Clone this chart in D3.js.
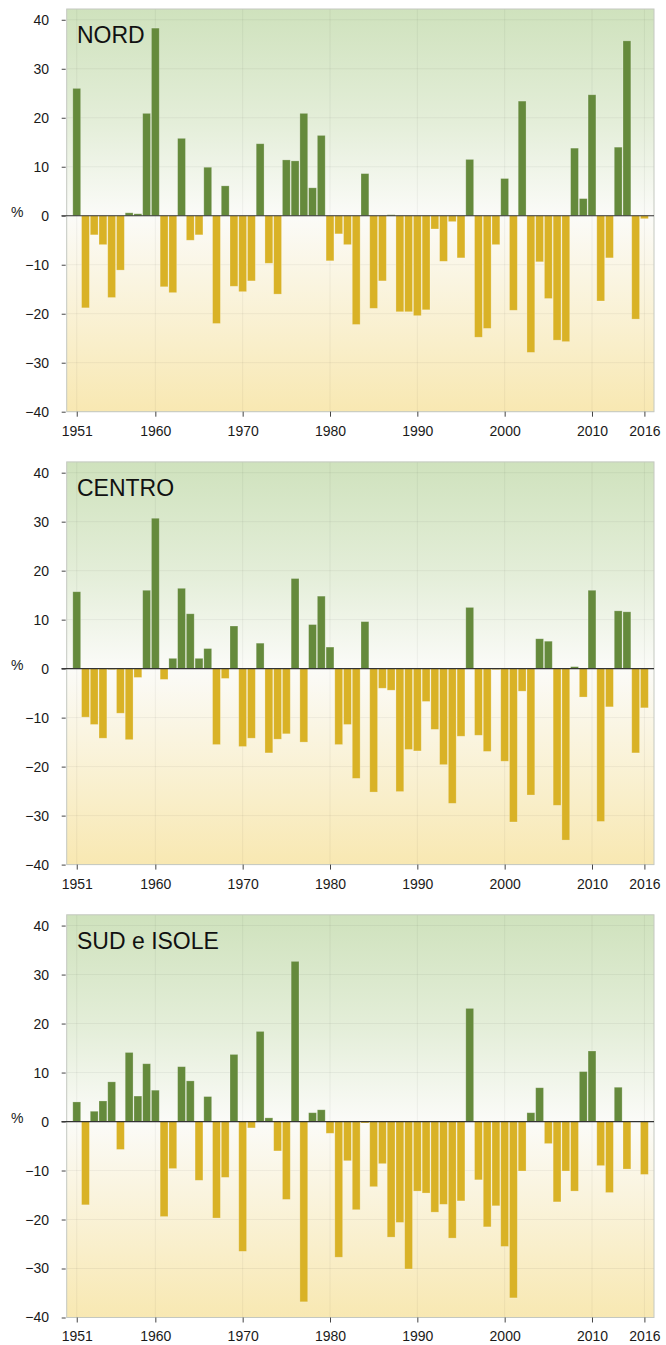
<!DOCTYPE html>
<html>
<head>
<meta charset="utf-8">
<script src="https://cdn.jsdelivr.net/npm/d3@7"></script>
<style>
    body { margin: 0; background: #fff; }
    svg text { font-family: "Liberation Sans", Arial, sans-serif; }
</style>
</head>
<body>
<div id="chart"></div>
<script>
var years = [1951, 1952, 1953, 1954, 1955, 1956, 1957, 1958, 1959, 1960,
    1961, 1962, 1963, 1964, 1965, 1966, 1967, 1968, 1969, 1970,
    1971, 1972, 1973, 1974, 1975, 1976, 1977, 1978, 1979, 1980,
    1981, 1982, 1983, 1984, 1985, 1986, 1987, 1988, 1989, 1990,
    1991, 1992, 1993, 1994, 1995, 1996, 1997, 1998, 1999, 2000,
    2001, 2002, 2003, 2004, 2005, 2006, 2007, 2008, 2009, 2010,
    2011, 2012, 2013, 2014, 2015, 2016];

var nordValues = [26.0, -18.8, -3.9, -5.9, -16.7, -11.1, 0.6, 0.4, 20.9, 38.3,
    -14.5, -15.7, 15.8, -5.0, -3.9, 9.9, -22.0, 6.1, -14.4, -15.5,
    -13.3, 14.7, -9.7, -16.0, 11.4, 11.2, 20.9, 5.7, 16.4, -9.2,
    -3.7, -5.9, -22.2, 8.6, -18.9, -13.3, 0.2, -19.6, -19.6, -20.4,
    -19.2, -2.7, -9.3, -1.2, -8.6, 11.5, -24.8, -23.0, -5.9, 7.6,
    -19.3, 23.4, -27.9, -9.4, -16.9, -25.4, -25.7, 13.8, 3.5, 24.7,
    -17.4, -8.6, 14.0, 35.7, -21.1, -0.6];

var centroValues = [15.7, -9.9, -11.4, -14.2, -0.2, -9.1, -14.5, -1.8, 16.0, 30.7,
    -2.2, 2.1, 16.4, 11.2, 2.1, 4.1, -15.5, -2.0, 8.7, -15.9,
    -14.2, 5.2, -17.2, -14.4, -13.3, 18.4, -15.0, 9.0, 14.8, 4.4,
    -15.5, -11.4, -22.4, 9.6, -25.2, -4.0, -4.4, -25.1, -16.5, -16.8,
    -6.7, -12.4, -19.6, -27.5, -13.8, 12.5, -13.6, -16.9, -0.2, -18.9,
    -31.3, -4.6, -25.8, 6.1, 5.6, -27.9, -35.0, 0.4, -5.8, 16.0,
    -31.2, -7.8, 11.8, 11.6, -17.2, -8.0];

var sudValues = [4.0, -17.0, 2.1, 4.2, 8.1, -5.7, 14.1, 5.2, 11.8, 6.4,
    -19.4, -9.6, 11.2, 8.3, -12.0, 5.1, -19.7, -11.4, 13.7, -26.5,
    -1.3, 18.4, 0.75, -6.0, -15.9, 32.7, -36.8, 1.8, 2.4, -2.4,
    -27.7, -8.0, -18.0, -0.3, -13.3, -8.6, -23.6, -20.6, -30.1, -14.2,
    -14.6, -18.5, -16.9, -23.8, -16.2, 23.1, -11.9, -21.5, -17.2, -25.5,
    -36.0, -10.1, 1.8, 6.9, -4.5, -16.4, -10.1, -14.2, 10.2, 14.4,
    -9.0, -14.5, 7.0, -9.7, 0, -10.8];

var regionNames = ["NORD", "CENTRO", "SUD e ISOLE"];
var yTickValues = [-40, -30, -20, -10, 0, 10, 20, 30, 40];
var xTickValues = [1951, 1960, 1970, 1980, 1990, 2000, 2010, 2016];

var width = 666, height = 1345;
var plot = {left: 66.7, right: 654, top: 9, bottom: 411.7};
var panelStep = 452.9;
var greenBar = '#658a3c', yellowBar = '#d9b226';

var svg = d3.select('#chart').append('svg')
    .attr('width', width)
    .attr('height', height);

var x = d3.scaleLinear().domain([1949.85, 2017.1]).range([plot.left, plot.right]);
var y = d3.scaleLinear().domain([-40, 42.2]).range([plot.bottom, plot.top]);
var barWidth = (x(1) - x(0)) * 0.9;

//background gradient
var defs = svg.append('defs');
var grad = defs.append('linearGradient')
    .attr('id', 'bgGrad')
    .attr('x1', 0).attr('y1', 0).attr('x2', 0).attr('y2', 1);
var zeroFrac = (y(0) - plot.top) / (plot.bottom - plot.top);
grad.append('stop').attr('offset', 0).attr('stop-color', '#cfe2bd');
grad.append('stop').attr('offset', zeroFrac * 0.55).attr('stop-color', '#e4eed9');
grad.append('stop').attr('offset', zeroFrac).attr('stop-color', '#fbfbf8');
grad.append('stop').attr('offset', 1).attr('stop-color', '#f8e8b2');

var series = [nordValues, centroValues, sudValues];

series.forEach(function (values, p) {
    var g = svg.append('g').attr('transform', 'translate(0,' + (p * panelStep) + ')');

    //plot background
    g.append('rect')
        .attr('x', plot.left)
        .attr('y', plot.top)
        .attr('width', plot.right - plot.left)
        .attr('height', plot.bottom - plot.top)
        .style('fill', 'url(#bgGrad)');

    //grid lines
    g.selectAll('.hgrid').data(yTickValues).enter().append('line')
        .attr('x1', plot.left).attr('x2', plot.right)
        .attr('y1', function (d) { return y(d); })
        .attr('y2', function (d) { return y(d); })
        .attr('stroke', 'rgba(0,0,0,0.05)');
    g.selectAll('.vgrid').data(xTickValues).enter().append('line')
        .attr('y1', plot.top).attr('y2', plot.bottom)
        .attr('x1', function (d) { return x(d); })
        .attr('x2', function (d) { return x(d); })
        .attr('stroke', 'rgba(0,0,0,0.05)');

    //bars
    g.selectAll('.bar').data(values).enter().append('rect')
        .attr('x', function (d, i) { return x(years[i]) - barWidth / 2; })
        .attr('y', function (d) { return d > 0 ? y(d) : y(0); })
        .attr('width', barWidth)
        .attr('height', function (d) { return Math.abs(y(d) - y(0)); })
        .style('fill', function (d) { return d > 0 ? greenBar : yellowBar; })
        .style('stroke', 'rgba(255,255,255,0.3)')
        .style('stroke-width', 0.8);

    //plot border
    g.append('rect')
        .attr('x', plot.left)
        .attr('y', plot.top)
        .attr('width', plot.right - plot.left)
        .attr('height', plot.bottom - plot.top)
        .style('fill', 'none')
        .style('stroke', '#c4c8c0')
        .style('stroke-width', 1);

    //zero line
    g.append('line')
        .attr('x1', 61.5).attr('x2', plot.right)
        .attr('y1', y(0)).attr('y2', y(0))
        .attr('stroke', '#333')
        .attr('stroke-width', 1.2);

    //y axis
    var yAxis = g.append('g')
        .attr('transform', 'translate(65.7,0)')
        .call(d3.axisLeft(y).tickValues(yTickValues).tickSize(4).tickPadding(12.7));
    yAxis.select('.domain').remove();
    yAxis.selectAll('line').attr('stroke', '#444');
    yAxis.selectAll('text').attr('font-size', '14px').attr('fill', '#1a1a1a')
        .attr('font-family', '"Liberation Sans", Arial, sans-serif');

    //x axis
    var xAxis = g.append('g')
        .attr('transform', 'translate(0,' + plot.bottom + ')')
        .call(d3.axisBottom(x).tickValues(xTickValues).tickFormat(d3.format('d')).tickSize(5).tickPadding(9));
    xAxis.select('.domain').remove();
    xAxis.selectAll('line').attr('stroke', '#444');
    xAxis.selectAll('text').attr('font-size', '14px').attr('fill', '#1a1a1a')
        .attr('font-family', '"Liberation Sans", Arial, sans-serif');

    //percent label
    g.append('text')
        .text('%')
        .attr('x', 11)
        .attr('y', y(0) + 1)
        .attr('font-size', '14px')
        .attr('fill', '#1a1a1a');

    //region title
    g.append('text')
        .text(regionNames[p])
        .attr('x', 77)
        .attr('y', 43.3)
        .attr('font-size', '23px')
        .attr('fill', '#111');
});
</script>
</body>
</html>
